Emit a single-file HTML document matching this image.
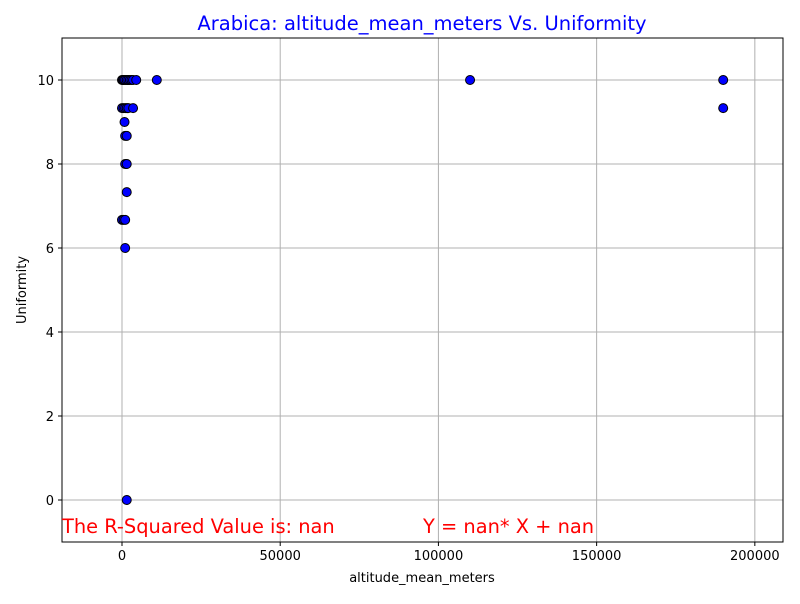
<!DOCTYPE html>
<html><head><meta charset="utf-8"><style>
body{margin:0;background:#fff;font-family:"DejaVu Sans",sans-serif}
</style></head><body>
<svg id="chart" width="800" height="600" xmlns="http://www.w3.org/2000/svg" font-family="DejaVu Sans, sans-serif">
<rect width="800" height="600" fill="#fff"/>
<g id="grid"></g>
<g id="points"></g>
<rect x="62" y="38" width="721" height="504" fill="none" stroke="#000" stroke-width="1"/>
<g id="ticks"></g>
<text x="422" y="30" text-anchor="middle" font-size="19.5" fill="#0000ff">Arabica: altitude_mean_meters Vs. Uniformity</text>
<text x="422" y="582" text-anchor="middle" font-size="13">altitude_mean_meters</text>
<text transform="translate(26,290) rotate(-90)" text-anchor="middle" font-size="13">Uniformity</text>
<text x="62" y="533" font-size="19.4" fill="#ff0000">The R-Squared Value is: nan</text>
<text x="423" y="533" font-size="19.4" fill="#ff0000">Y = nan* X + nan</text>
</svg>
<script>
const xVals=[0,300,600,1000,1500,2000,2500,3000,3500,4500,11000,110000,190000,
0,500,1000,1500,2000,3500,190000,
800,1000,1500,1000,1500,1500,0,500,1000,1000,1500];
const yVals=[10,10,10,10,10,10,10,10,10,10,10,10,10,
9.33,9.33,9.33,9.33,9.33,9.33,9.33,
9,8.67,8.67,8,8,7.33,6.67,6.67,6.67,6,0];
const xTicks=[0,50000,100000,150000,200000];
const yTicks=[0,2,4,6,8,10];
const xMin=-18960,xMax=208900,yMin=-1,yMax=11;
const L=62,R=783,T=38,B=542;
const sx=v=>L+(v-xMin)/(xMax-xMin)*(R-L);
const sy=v=>B-(v-yMin)/(yMax-yMin)*(B-T);
const NS="http://www.w3.org/2000/svg";
const mk=(p,t,a)=>{const e=document.createElementNS(NS,t);for(const k in a)e.setAttribute(k,a[k]);document.getElementById(p).appendChild(e);return e;};
xTicks.forEach(v=>{const x=sx(v);
 const g=mk('grid','line',{x1:x,x2:x,y1:T,y2:B,stroke:'#b0b0b0','stroke-width':1});
 
 
 mk('ticks','line',{x1:x,x2:x,y1:B,y2:B+4,stroke:'#000'});
 const t=mk('ticks','text',{x:x,y:B+18,'text-anchor':'middle','font-size':13});
 t.textContent=v;
 
 });
yTicks.forEach(v=>{const y=sy(v);
 const g=mk('grid','line',{x1:L,x2:R,y1:y,y2:y,stroke:'#b0b0b0','stroke-width':1});
 
 
 mk('ticks','line',{x1:L-4,x2:L,y1:y,y2:y,stroke:'#000'});
 const t=mk('ticks','text',{x:L-8,y:y+5,'text-anchor':'end','font-size':13});
 t.textContent=v;
 
 });
xVals.forEach((v,i)=>{const c=mk('points','circle',{cx:sx(v),cy:sy(yVals[i]),r:4.5,fill:'#0000ff',stroke:'#000','stroke-width':1});
 
 });
</script>
</body></html>
